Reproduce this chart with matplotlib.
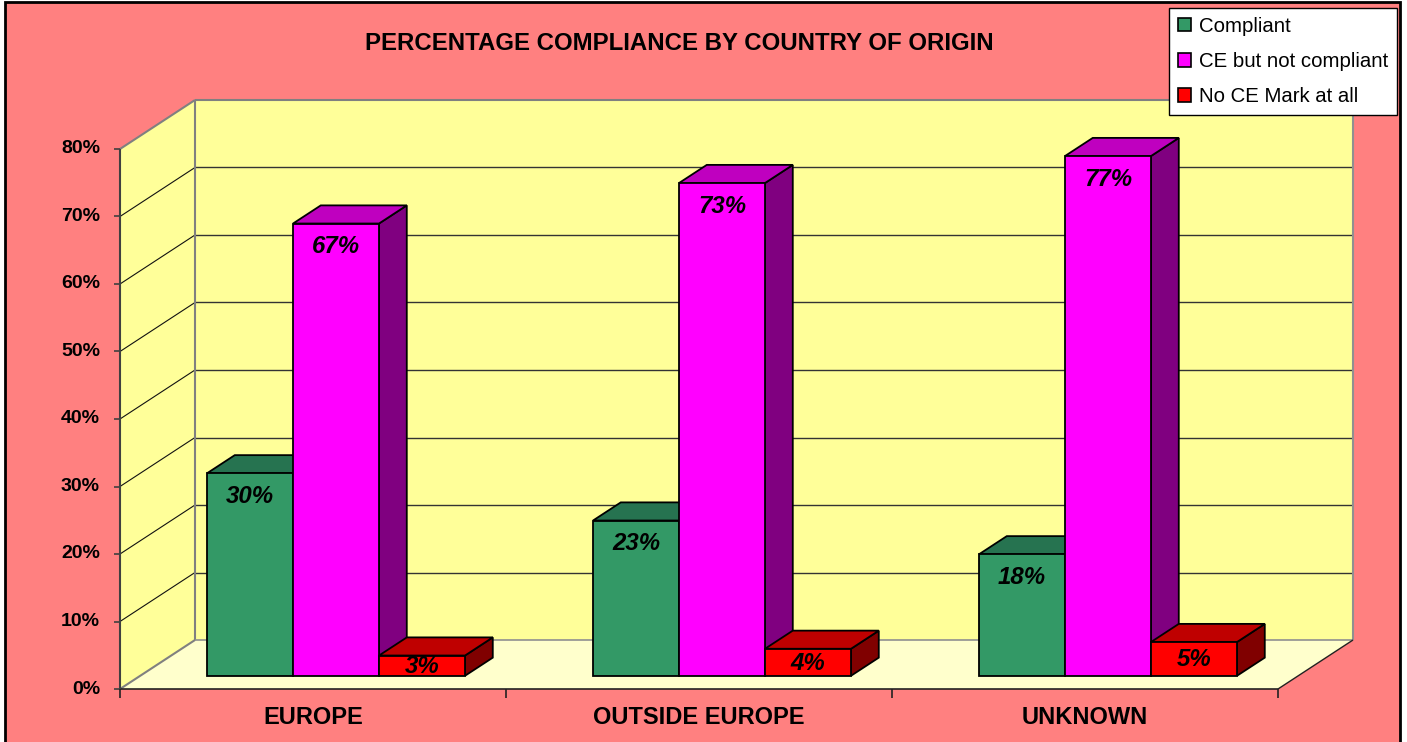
import matplotlib
matplotlib.use('Agg')
import matplotlib.pyplot as plt
from matplotlib.patches import Polygon, Rectangle, Patch

plt.rcParams['font.family'] = ['Liberation Sans', 'DejaVu Sans']

categories = ['EUROPE', 'OUTSIDE EUROPE', 'UNKNOWN']
series_names = ['Compliant', 'CE but not compliant', 'No CE Mark at all']
compliant = [30, 23, 18]
ce_not_compliant = [67, 73, 77]
no_ce_mark = [3, 4, 5]
y_ticks = [0, 10, 20, 30, 40, 50, 60, 70, 80]

# colours: front, top, side
front_cols = ['#339966', '#FF00FF', '#FF0000']
top_cols = ['#267350', '#BF00BF', '#BF0000']
side_cols = ['#1A4D33', '#800080', '#800000']

# pixel scale of the chart
W, H = 1407, 742
X0, Y0 = 120, 689          # front origin (px, from top)
PX_CAT = 386.0             # px per category
PX_PCT = 6.75              # px per percent
DX = 75 / PX_CAT           # depth offset in data units
DY = 49 / PX_PCT
YMAX = 80

fig = plt.figure(figsize=(W / 100, H / 100), dpi=100)
fig.patch.set_facecolor('white')
fig.patches.append(Rectangle((5 / W, -0.01), 1395 / W, 1.0 - 2 / H + 0.01,
                             transform=fig.transFigure, facecolor='#FF8080',
                             edgecolor='black', lw=2, zorder=-10))

ax = fig.add_axes([0, 0, 1, 1])
ax.set_xlim(-X0 / PX_CAT, (W - X0) / PX_CAT)
ax.set_ylim(-(H - Y0) / PX_PCT, Y0 / PX_PCT)
ax.axis('off')
ax.patch.set_alpha(0)


def proj(x, y, z):
    return (x + z * DX, y + z * DY)


def poly(pts, fc, ec='none', lw=0, z=1):
    ax.add_patch(Polygon(pts, closed=True, facecolor=fc, edgecolor=ec, lw=lw,
                         zorder=z, joinstyle='miter'))


def line(p, q, c, lw, z=2):
    ax.plot([p[0], q[0]], [p[1], q[1]], color=c, lw=lw, zorder=z,
            solid_capstyle='butt')


n = len(categories)
# walls and floor
poly([proj(0, 0, 1), proj(n, 0, 1), proj(n, YMAX, 1), proj(0, YMAX, 1)], '#FFFF99')
poly([proj(0, 0, 0), proj(0, 0, 1), proj(0, YMAX, 1), proj(0, YMAX, 0)], '#FFFF99')
poly([proj(0, 0, 0), proj(n, 0, 0), proj(n, 0, 1), proj(0, 0, 1)], '#FFFFCC')

for v in y_ticks[1:-1]:
    line(proj(0, v, 1), proj(n, v, 1), '#333333', 1.0)
    line(proj(0, v, 0), proj(0, v, 1), '#111111', 0.8)

line(proj(0, 0, 1), proj(0, YMAX, 1), '#808080', 1.5)
line(proj(0, YMAX, 1), proj(n, YMAX, 1), '#808080', 1.5)
line(proj(0, YMAX, 0), proj(0, YMAX, 1), '#808080', 1.5)
line(proj(n, 0, 1), proj(n, YMAX, 1), '#909090', 1.5)
line(proj(0, 0, 1), proj(n, 0, 1), '#909090', 1.2)
line(proj(0, 0, 0), proj(0, 0, 1), '#808080', 1.5)
line(proj(n, 0, 0), proj(n, 0, 1), '#222222', 1.0)
line(proj(0, 0, 0), proj(n, 0, 0), '#222222', 1.2)
line(proj(0, 0, 0), proj(0, YMAX, 0), '#404040', 1.5)

# y ticks and labels
tick_len = 6 / PX_CAT
for v in y_ticks:
    line((-tick_len, v), (0, v), '#404040', 1.2)
    ax.text(-20 / PX_CAT, v, f'{v}%', ha='right', va='center',
            fontsize=14, fontweight='bold')

# category ticks and labels
for i in range(n + 1):
    line((i, 0), (i, -9 / PX_PCT), '#222222', 1.2)
for i, c in enumerate(categories):
    ax.text(i + 0.5, -29 / PX_PCT, c, ha='center', va='center',
            fontsize=17, fontweight='bold')

# bars
bw = 86 / PX_CAT
zf, zb = 0.27, 0.64
values = [compliant, ce_not_compliant, no_ce_mark]
zc = 10
for i in range(n):
    for s in range(len(values)):
        v = values[s][i]
        x0 = i + 0.173 + s * bw
        x1 = x0 + bw
        ek = dict(ec='black', lw=1.3)
        poly([proj(x1, 0, zf), proj(x1, 0, zb), proj(x1, v, zb), proj(x1, v, zf)],
             side_cols[s], z=zc, **ek)
        poly([proj(x0, v, zf), proj(x1, v, zf), proj(x1, v, zb), proj(x0, v, zb)],
             top_cols[s], z=zc, **ek)
        poly([proj(x0, 0, zf), proj(x1, 0, zf), proj(x1, v, zf), proj(x0, v, zf)],
             front_cols[s], z=zc + 1, **ek)
        cx, top = proj((x0 + x1) / 2, v, zf)
        base = proj(x0, 0, zf)[1]
        if (top - base) * PX_PCT > 46:
            ty = top - 23 / PX_PCT
        else:
            ty = (top + base) / 2 - 1 / PX_PCT
        ax.text(cx, ty, f'{v}%', ha='center', va='center', fontsize=17.3,
                fontweight='bold', fontstyle='italic', zorder=zc + 2)
        zc += 3

fig.text(679.5 / W, 1 - 44 / H, 'PERCENTAGE COMPLIANCE BY COUNTRY OF ORIGIN',
         ha='center', va='center', fontsize=17.3, fontweight='bold')

handles = [Patch(facecolor=front_cols[s], edgecolor='black', lw=1.2)
           for s in range(len(series_names))]
leg = fig.legend(handles, series_names, loc='upper right',
                 bbox_to_anchor=(1397 / W, 1 - 8 / H), borderaxespad=0,
                 fontsize=14.7, handlelength=0.65, handleheight=0.65,
                 handletextpad=0.4, labelspacing=0.8, borderpad=0.42,
                 fancybox=False, framealpha=1, edgecolor='black')
leg.get_frame().set_linewidth(1.0)

fig.savefig('out.png', dpi=100)
